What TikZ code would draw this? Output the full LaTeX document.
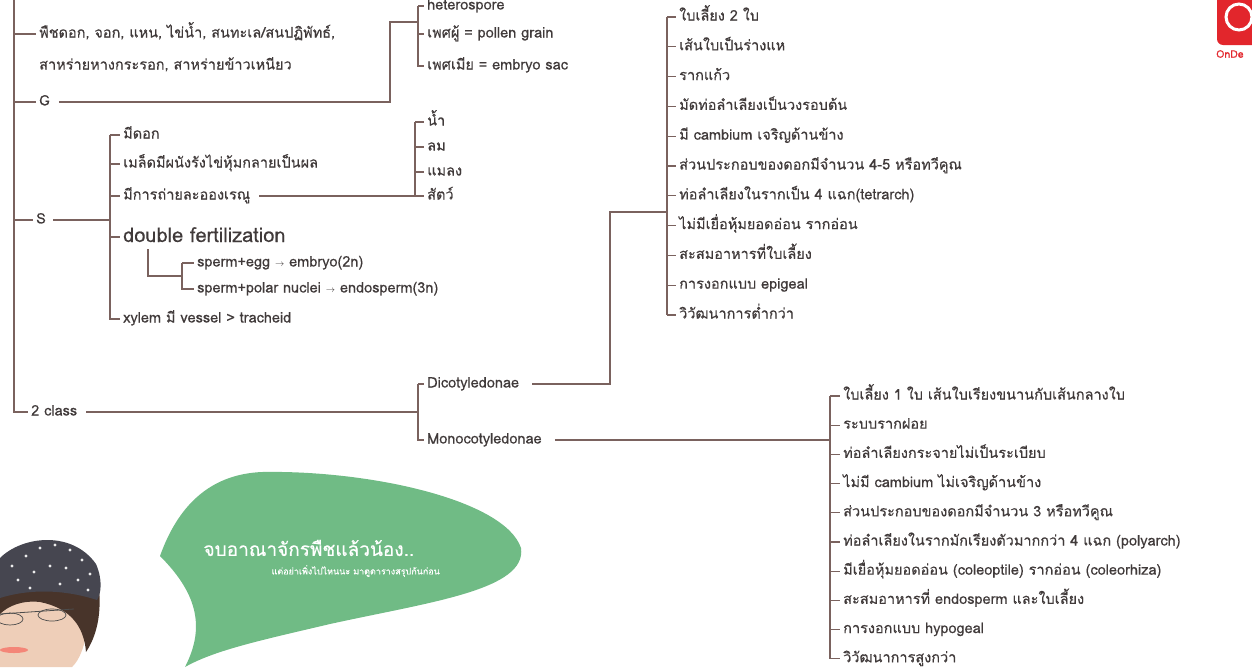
\documentclass[tikz,border=0pt]{standalone}
\usepackage{fontspec}
\setmainfont[Script=Thai, FakeBold=0.4]{Loma}
\usetikzlibrary{positioning,calc}

\definecolor{lincol}{RGB}{122,98,94}
\definecolor{txtcol}{RGB}{64,58,58}
\definecolor{bubgreen}{RGB}{112,187,133}
\definecolor{skin}{RGB}{238,206,184}
\definecolor{capgray}{RGB}{70,70,80}
\definecolor{hairbrown}{RGB}{72,52,42}
\definecolor{logored}{RGB}{226,38,44}

\begin{document}
\begin{tikzpicture}[x=1pt,y=-1pt]
        \tikzstyle{item}=[anchor=west, inner sep=3pt, text=txtcol, font=\fontsize{14.5}{16}\selectfont, text height=10pt, text depth=3pt]
        \tikzstyle{bigitem}=[item, font=\fontsize{20}{22}\selectfont, text height=14pt, text depth=4pt]
        \tikzstyle{ln}=[draw=lincol, line width=1.1pt]

        \useasboundingbox (0,0) rectangle (1252,667);
        \clip (0,0) rectangle (1252,667);

        % main trunk
        \coordinate (trunk) at (14,-10);
        \node[item] (flower) at (36,34) {พืชดอก, จอก, แหน, ไข่น้ำ, สนทะเล/สนปฏิพัทธ์,};
        \node[item] (algae) at (36,66) {สาหร่ายหางกระรอก, สาหร่ายข้าวเหนียว};
        \node[item] (g) at (36,102) {G};
        \node[item] (s) at (33,220) {S};
        \node[item] (twoclass) at (28,412) {2 class};
        \draw[ln] (trunk) |- (twoclass.west);
        \foreach \n in {flower,g,s}
            \draw[ln] (\n.west -| trunk) -- (\n.west);

        % G
        \coordinate (gup) at (390,22);
        \coordinate (hbr) at (418,22);
        \node[item] (hetero) at (424,6) {heterospore};
        \node[item] (male) at (424,34) {เพศผู้ = pollen grain};
        \node[item] (female) at (424,66) {เพศเมีย = embryo sac};
        \draw[ln] ([xshift=6pt]g.east) -| (gup) -- (hbr);
        \draw[ln] (hetero.west -| hbr) |- (female.west);
        \draw[ln] (hetero.west -| hbr) -- (hetero.west);
        \draw[ln] (male.west -| hbr) -- (male.west);

        % S
        \coordinate (sbr) at (110,220);
        \node[item] (bloom) at (120,135) {มีดอก};
        \node[item] (seed) at (120,164) {เมล็ดมีผนังรังไข่หุ้มกลายเป็นผล};
        \node[item] (pollin) at (120,196) {มีการถ่ายละอองเรณู};
        \node[bigitem] (dbl) at (120,237) {double fertilization};
        \node[item] (xylem) at (120,319) {xylem มี vessel > tracheid};
        \draw[ln] ([xshift=4pt]s.east) -- (sbr);
        \draw[ln] (bloom.west -| sbr) |- (xylem.west);
        \foreach \n in {bloom,seed,pollin,dbl}
            \draw[ln] (\n.west -| sbr) -- (\n.west);

        % pollination agents
        \coordinate (pbr) at (415,196);
        \node[item] (water) at (424,122) {น้ำ};
        \node[item] (wind) at (424,147) {ลม};
        \node[item] (insect) at (424,172) {แมลง};
        \node[item] (animal) at (424,196) {สัตว์};
        \draw[ln] ([xshift=6pt]pollin.east) -- (animal.west);
        \draw[ln] (water.west -| pbr) -- (animal.west -| pbr);
        \foreach \n in {water,wind,insect}
            \draw[ln] (\n.west -| pbr) -- (\n.west);

        % double fertilization
        \coordinate (dl) at (148,276);
        \coordinate (spj) at (182,276);
        \node[item] (egg) at (194,263) {sperm+egg {\small$\rightarrow$} embryo(2n)};
        \node[item] (polar) at (194,289) {sperm+polar nuclei {\small$\rightarrow$} endosperm(3n)};
        \draw[ln] (dbl.south -| dl) |- (spj);
        \draw[ln] (egg.west -| spj) |- (polar.west);
        \draw[ln] (egg.west -| spj) -- (egg.west);

        % 2 class
        \coordinate (cbr) at (418,412);
        \node[item] (dicot) at (424,384) {Dicotyledonae};
        \node[item] (mono) at (424,440) {Monocotyledonae};
        \draw[ln] ([xshift=6pt]twoclass.east) -- (cbr);
        \draw[ln] (dicot.west -| cbr) |- (mono.west);
        \draw[ln] (dicot.west -| cbr) -- (dicot.west);

        % dicot list
        \coordinate (dup) at (610,212);
        \coordinate (djoin) at (667,212);
        \draw[ln] ([xshift=10pt]dicot.east) -| (dup) -- (djoin);
        \foreach \t [count=\i] in {{ใบเลี้ยง 2 ใบ},{เส้นใบเป็นร่างแห},{รากแก้ว},{มัดท่อลำเลียงเป็นวงรอบต้น},{มี cambium เจริญด้านข้าง},{ส่วนประกอบของดอกมีจำนวน 4-5 หรือทวีคูณ},{ท่อลำเลียงในรากเป็น 4 แฉก(tetrarch)},{ไม่มีเยื่อหุ้มยอดอ่อน รากอ่อน},{สะสมอาหารที่ใบเลี้ยง},{การงอกแบบ epigeal},{วิวัฒนาการต่ำกว่า}}
            \node[item] (d\i) at (676,{17+(\i-1)*29.8}) {\t};
        \draw[ln] (d1.west -| djoin) -- (d11.west -| djoin);
        \foreach \i in {1,...,11}
            \draw[ln] (d\i.west -| djoin) -- (d\i.west);

        % monocot list
        \coordinate (mjoin) at (830,440);
        \draw[ln] ([xshift=10pt]mono.east) -- (mjoin);
        \foreach \t [count=\i] in {{ใบเลี้ยง 1 ใบ เส้นใบเรียงขนานกับเส้นกลางใบ},{ระบบรากฝอย},{ท่อลำเลียงกระจายไม่เป็นระเบียบ},{ไม่มี cambium ไม่เจริญด้านข้าง},{ส่วนประกอบของดอกมีจำนวน 3 หรือทวีคูณ},{ท่อลำเลียงในรากมักเรียงตัวมากกว่า 4 แฉก (polyarch)},{มีเยื่อหุ้มยอดอ่อน (coleoptile) รากอ่อน (coleorhiza)},{สะสมอาหารที่ endosperm และใบเลี้ยง},{การงอกแบบ hypogeal},{วิวัฒนาการสูงกว่า}}
            \node[item] (m\i) at (840,{396+(\i-1)*29.2}) {\t};
        \draw[ln] (m1.west -| mjoin) -- (m10.west -| mjoin);
        \foreach \i in {1,...,10}
            \draw[ln] (m\i.west -| mjoin) -- (m\i.west);

        % speech bubble
        \fill[bubgreen] (160,556) .. controls (180,500) and (215,474) .. (262,472)
            .. controls (370,470) and (505,500) .. (521,548)
            .. controls (527,590) and (430,602) .. (330,624)
            .. controls (262,640) and (215,650) .. (185,667)
            .. controls (204,630) and (200,596) .. (160,556) -- cycle;
        \node[anchor=west, text=white, font=\fontsize{19}{22}\selectfont] (say) at (200,548) {จบอาณาจักรพืชแล้วน้อง..};
        \node[anchor=west, text=white, font=\fontsize{9}{11}\selectfont] (saymore) at (268,571) {แต่อย่าเพิ่งไปไหนนะ มาดูตารางสรุปกันก่อน};

        % girl
        \fill[skin] (0,598) -- (84,598) .. controls (92,630) and (82,658) .. (72,667) -- (0,667) -- cycle;
        \fill[hairbrown] (0,588) -- (99,588) .. controls (102,620) and (94,640) .. (86,652)
            .. controls (84,626) and (70,608) .. (40,602) .. controls (22,600) and (8,606) .. (0,614) -- cycle;
        \fill[capgray] (0,558) .. controls (22,536) and (72,530) .. (96,564)
            .. controls (103,580) and (101,594) .. (97,600) .. controls (60,588) and (25,590) .. (0,598) -- cycle;
        \foreach \p in {(12,566),(26,556),(40,548),(55,545),(70,550),(82,560),(90,574),(18,580),(34,572),(50,566),(66,568),(78,580),(30,588),(60,584),(88,590)}
            \fill[white!85!gray] \p circle (1.7);
        \draw[gray!60!black, line width=0.8pt] (0,614) -- (74,609);
        \draw[gray!60!black, line width=0.7pt] (10,619) ellipse [x radius=13, y radius=6];
        \draw[gray!60!black, line width=0.7pt] (52,615) ellipse [x radius=14, y radius=6];
        \fill[red!35!skin] (14,650) ellipse [x radius=14, y radius=3];

        % logo
        \fill[logored, rounded corners=6pt] (1217,-10) rectangle (1264,45);
        \draw[white, line width=3pt] (1239,17) circle (13);
        \node[anchor=west, text=logored, font=\fontsize{10.5}{12}\selectfont, inner sep=0pt] (logo) at (1216,54) {OnDe};
\end{tikzpicture}
\end{document}
